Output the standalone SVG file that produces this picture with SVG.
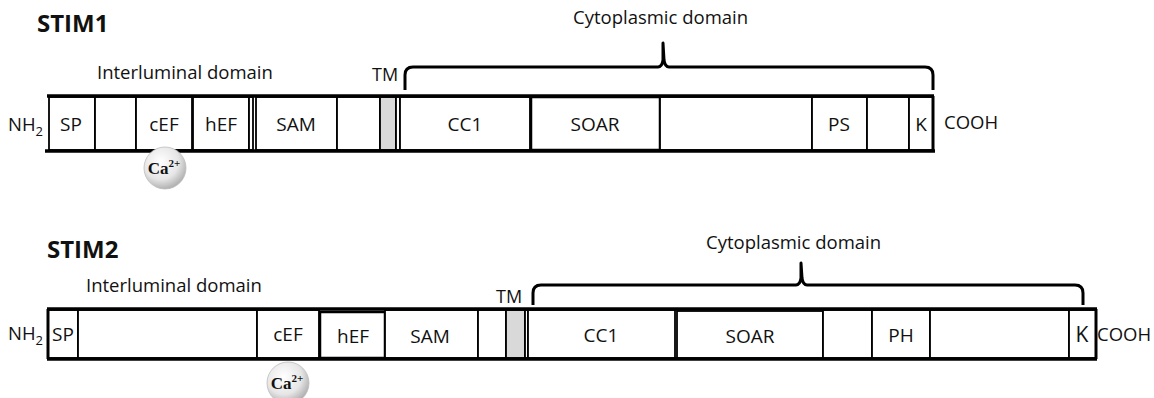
<svg xmlns="http://www.w3.org/2000/svg" width="1154" height="398" viewBox="0 0 1154 398">
<defs>
<radialGradient id="ball" cx="0.4" cy="0.35" r="0.7">
<stop offset="0" stop-color="#ffffff"/>
<stop offset="0.6" stop-color="#e6e6e6"/>
<stop offset="1" stop-color="#a8a8a8"/>
</radialGradient>
<style>
text{font-family:"Open Sans","Liberation Sans",sans-serif;fill:#111}
.title{font-size:24px;font-weight:bold}
.lbl{font-size:18.5px}
.tmlbl{font-size:18px}
.dom{font-size:19px;text-anchor:middle}
.box{fill:#fff;stroke:#000;stroke-width:1.8}
.tm{fill:#d9d9d9;stroke:#000;stroke-width:1.8}
.edge{stroke:#000;stroke-width:3.5;fill:none}
.brace{stroke:#000;stroke-width:3;fill:none;stroke-linejoin:round}
.ca{font-family:"Liberation Serif",serif;font-weight:bold;font-size:17px;text-anchor:middle}
</style>
</defs>
<rect width="1154" height="398" fill="#fff"/>

<!-- STIM1 -->
<g id="stim1-labels">
<text class="title" x="37" y="32">STIM1</text>
<text class="lbl" x="97" y="79">Interluminal domain</text>
<text class="lbl" x="573" y="24">Cytoplasmic domain</text>
<text class="tmlbl" x="372" y="81">TM</text>
<text class="lbl" x="8" y="131">NH<tspan font-size="13" dy="5">2</tspan></text>
<text class="lbl" x="944" y="129">COOH</text>
</g>
<g id="stim1-SP"><rect class="box" x="49" y="97" width="46" height="53"/><text class="dom" x="71" y="131">SP</text></g>
<g id="stim1-blank1"><rect class="box" x="95" y="97" width="41" height="53"/></g>
<g id="stim1-cEF"><rect class="box" x="136" y="97" width="56" height="53"/><text class="dom" x="164" y="131">cEF</text></g>
<g id="stim1-hEF"><rect class="box" x="193" y="97" width="56" height="53"/><text class="dom" x="221" y="131">hEF</text></g>
<g id="stim1-gap"><rect class="box" x="249" y="97" width="4" height="53"/></g>
<g id="stim1-SAM"><rect class="box" x="256" y="97" width="81" height="53"/><text class="dom" x="296" y="131">SAM</text></g>
<g id="stim1-blank2"><rect class="box" x="337" y="97" width="43" height="53"/></g>
<g id="stim1-TM"><rect class="tm" x="380" y="97" width="16" height="53"/><rect class="box" x="396" y="97" width="4" height="53"/></g>
<g id="stim1-CC1"><rect class="box" x="400" y="97" width="130" height="53"/><text class="dom" x="465" y="131">CC1</text></g>
<g id="stim1-SOAR"><rect class="box" x="531" y="97" width="129" height="53" style="stroke-width:2.5"/><text class="dom" x="595" y="131">SOAR</text></g>
<g id="stim1-blank3"><rect class="box" x="660" y="97" width="152" height="53"/></g>
<g id="stim1-PS"><rect class="box" x="812" y="97" width="55" height="53"/><text class="dom" x="839" y="131">PS</text></g>
<g id="stim1-blank4"><rect class="box" x="867" y="97" width="42" height="53"/></g>
<g id="stim1-K"><rect class="box" x="909" y="97" width="24" height="53"/><text class="dom" x="921" y="131">K</text></g>
<g id="stim1-edges">
<line class="edge" x1="47" y1="96" x2="934" y2="96"/>
<line class="edge" x1="45" y1="151" x2="935" y2="151"/>
<line x1="933" y1="96" x2="933" y2="151" stroke="#000" stroke-width="3"/>
</g>
<g id="stim1-Ca">
<circle cx="165" cy="168" r="21" fill="url(#ball)" stroke="#bdbdbd" stroke-width="0.8"/>
<text class="ca" x="164" y="174">Ca<tspan font-size="11" dy="-7">2+</tspan></text>
</g>

<!-- STIM2 -->
<g id="stim2-labels">
<text class="title" x="47" y="258">STIM2</text>
<text class="lbl" x="86" y="292">Interluminal domain</text>
<text class="lbl" x="706" y="249">Cytoplasmic domain</text>
<text class="tmlbl" x="496" y="303">TM</text>
<text class="lbl" x="8" y="340">NH<tspan font-size="13" dy="5">2</tspan></text>
<text class="lbl" x="1097" y="341">COOH</text>
</g>
<g id="stim2-SP"><rect class="box" x="48" y="310" width="30" height="48"/><text class="dom" x="63" y="341">SP</text></g>
<g id="stim2-blank1"><rect class="box" x="78" y="310" width="179" height="48"/></g>
<g id="stim2-cEF"><rect class="box" x="257" y="310" width="62" height="48"/><text class="dom" x="288" y="341">cEF</text></g>
<g id="stim2-hEF"><rect class="box" x="320" y="312" width="65" height="46" style="stroke-width:2.5"/><text class="dom" x="353" y="343">hEF</text></g>
<g id="stim2-SAM"><rect class="box" x="385" y="310" width="93" height="48"/><text class="dom" x="430" y="343">SAM</text></g>
<g id="stim2-blank2"><rect class="box" x="478" y="310" width="28" height="48"/></g>
<g id="stim2-TM"><rect class="tm" x="506" y="310" width="19" height="48"/><rect class="box" x="525" y="310" width="3" height="48"/></g>
<g id="stim2-CC1"><rect class="box" x="528" y="310" width="147" height="48"/><text class="dom" x="601" y="342">CC1</text></g>
<g id="stim2-SOAR"><rect class="box" x="677" y="311" width="146" height="47"/><text class="dom" x="750" y="343">SOAR</text></g>
<g id="stim2-blank3"><rect class="box" x="823" y="310" width="49" height="48"/></g>
<g id="stim2-PH"><rect class="box" x="872" y="310" width="58" height="48"/><text class="dom" x="901" y="342">PH</text></g>
<g id="stim2-blank4"><rect class="box" x="930" y="310" width="139" height="48"/></g>
<g id="stim2-K"><rect class="box" x="1069" y="310" width="27" height="48"/><text class="dom" x="1082" y="342" style="font-size:21px">K</text></g>
<g id="stim2-edges">
<line class="edge" x1="47" y1="309" x2="1097" y2="309"/>
<line class="edge" x1="47" y1="359" x2="1097" y2="359"/>
<line x1="1096" y1="309" x2="1096" y2="359" stroke="#000" stroke-width="3"/>
<line x1="48" y1="309" x2="48" y2="359" stroke="#000" stroke-width="3"/>
</g>
<g id="stim2-Ca">
<circle cx="288" cy="383" r="21" fill="url(#ball)" stroke="#bdbdbd" stroke-width="0.8"/>
<text class="ca" x="287" y="389">Ca<tspan font-size="11" dy="-7">2+</tspan></text>
</g>

<!-- connectors: braces -->
<g id="connectors">
<path class="brace" d="M405 90 L405 75 Q405 67 413 67 L658 67 Q662 67 663 60 L663 43 L664 60 Q665 67 669 67 L925 67 Q933 67 933 75 L933 90"/>
<path class="brace" d="M533 305 L533 293 Q533 285 541 285 L796 285 Q800 285 801 278 L801 263 L802 278 Q803 285 807 285 L1075 285 Q1083 285 1083 293 L1083 305"/>
</g>
</svg>
